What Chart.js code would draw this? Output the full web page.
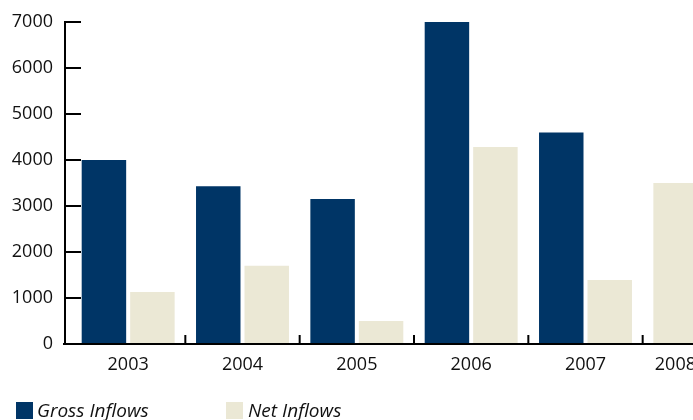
<!DOCTYPE html>
<html>
<head>
<meta charset="utf-8">
<script src="https://cdn.jsdelivr.net/npm/chart.js@4/dist/chart.umd.min.js"></script>
<style>
  html, body { margin: 0; padding: 0; background: #fff; overflow: hidden; }
  #wrap { position: relative; width: 693px; height: 420px; overflow: hidden; }
  #box { position: absolute; left: 0; top: 0; width: 760px; height: 420px; }
  .leg { position: absolute; top: 401px; height: 19px; font: italic 19px "Open Sans", sans-serif;
         line-height: 19px; color: #111; white-space: nowrap; }
  .sw { position: absolute; width: 17px; height: 17px; }
</style>
</head>
<body>
<div id="wrap">
  <div id="box"><canvas id="c" width="760" height="420"></canvas></div>
  <div class="sw" id="sw0" style="left:16px; top:402px;"></div>
  <div class="leg" id="lg0" style="left:37px;"></div>
  <div class="sw" id="sw1" style="left:226px; top:402px;"></div>
  <div class="leg" id="lg1" style="left:248px;"></div>
</div>
<script>
// Capital inflows by year
const years = ['2003', '2004', '2005', '2006', '2007', '2008'];
const grossInflows = [4000, 3430, 3150, 7000, 4600, 3500];
const netInflows = [1130, 1700, 500, 4280, 1390, null];
const seriesNames = ['Gross Inflows', 'Net Inflows'];
const yTicks = [0, 1000, 2000, 3000, 4000, 5000, 6000, 7000];

const NAVY = '#003566';
const BEIGE = '#EBE8D5';
const INK = '#111111';
const FONT = '"Open Sans", sans-serif';
const VIEW_W = 693;

// 2008 is a partial-year figure, shown in the lighter shade
const grossColors = years.map(y => (y === '2008' ? BEIGE : NAVY));

// Axis lines with inward tick marks; the last year label is kept inside the view
const axesPlugin = {
  id: 'axes',
  afterDatasetsDraw(chart) {
    const { ctx, scales: { x, y }, chartArea } = chart;
    const ax = chartArea.left - 6;
    const y0 = y.getPixelForValue(0);
    const yTop = y.getPixelForValue(yTicks[yTicks.length - 1]);
    ctx.save();
    ctx.strokeStyle = '#000';
    ctx.lineWidth = 2;
    ctx.lineCap = 'butt';
    ctx.beginPath();
    ctx.moveTo(ax, yTop - 1);
    ctx.lineTo(ax, y0 + 1);
    yTicks.forEach(v => {
      const py = y.getPixelForValue(v);
      ctx.moveTo(ax, py);
      ctx.lineTo(ax + 16, py);
    });
    ctx.moveTo(ax - 2, y0);
    ctx.lineTo(chart.width, y0);
    for (let i = 1; i < years.length; i++) {
      const px = (x.getPixelForValue(i - 1) + x.getPixelForValue(i)) / 2;
      ctx.moveTo(px, y0);
      ctx.lineTo(px, y0 - 9);
    }
    ctx.stroke();

    const last = years.length - 1;
    ctx.font = '18px ' + FONT;
    ctx.fillStyle = INK;
    ctx.textAlign = 'right';
    ctx.textBaseline = 'middle';
    const lx = Math.min(x.getPixelForValue(last) + ctx.measureText(years[last]).width / 2, VIEW_W + 3);
    ctx.fillText(years[last], lx, y0 + 10 + 11);
    ctx.restore();
  }
};

const chart = new Chart(document.getElementById('c'), {
  type: 'bar',
  data: {
    labels: years,
    datasets: [
      { label: seriesNames[0], data: grossInflows, backgroundColor: grossColors },
      { label: seriesNames[1], data: netInflows, backgroundColor: BEIGE }
    ]
  },
  options: {
    responsive: false,
    animation: false,
    layout: { padding: { top: 22, right: 3, left: 0, bottom: 0 } },
    datasets: { bar: { categoryPercentage: 0.848, barPercentage: 0.9175 } },
    plugins: { legend: { display: false }, tooltip: { enabled: false } },
    scales: {
      x: {
        grid: { display: false, drawTicks: false },
        border: { display: false },
        ticks: {
          color: ctx => (ctx.index === years.length - 1 ? 'rgba(0,0,0,0)' : INK),
          font: { family: FONT, size: 18 }, padding: 10, maxRotation: 0
        },
        afterFit(s) { s.height = 76; s.paddingLeft = 0; s.paddingRight = 0; }
      },
      y: {
        min: 0, max: 7000,
        afterBuildTicks(s) { s.ticks = yTicks.map(v => ({ value: v })); },
        grid: { display: false, drawTicks: false },
        border: { display: false },
        ticks: {
          color: INK, font: { family: FONT, size: 18 }, padding: 18,
          callback: v => String(v)
        },
        afterFit(s) { s.width = 71; s.paddingTop = 0; s.paddingBottom = 0; }
      }
    }
  },
  plugins: [axesPlugin]
});

// Legend swatches and labels
document.getElementById('sw0').style.background = NAVY;
document.getElementById('sw1').style.background = BEIGE;
document.getElementById('lg0').textContent = seriesNames[0];
document.getElementById('lg1').textContent = seriesNames[1];
</script>
</body>
</html>
